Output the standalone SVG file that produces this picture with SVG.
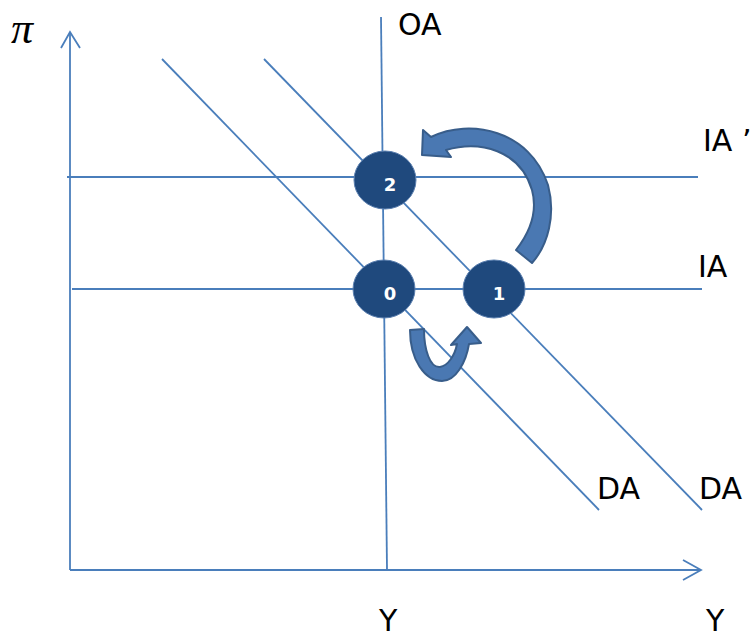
<svg xmlns="http://www.w3.org/2000/svg" width="750" height="631" viewBox="0 0 750 631">
<defs>
<style>
.ln{stroke:#4A7EBB;stroke-width:1.8;fill:none}
.lbl{font-family:"DejaVu Sans","Verdana",sans-serif;font-size:30px;fill:#000}
.node{fill:#1F497D;stroke:#5B7FAF;stroke-width:1}
.nt{font-family:"DejaVu Sans","Verdana",sans-serif;font-size:18px;font-weight:bold;fill:#fff;text-anchor:middle}
.arr{fill:#4A78B2;stroke:#385D8A;stroke-width:2;stroke-linejoin:round}
</style>
</defs>
<rect width="750" height="631" fill="#fff"/>
<g id="axes">
<line class="ln" x1="70" y1="570" x2="70" y2="32"/>
<polyline class="ln" points="61,48 70,32 80,48"/>
<line class="ln" x1="70" y1="570" x2="701" y2="570"/>
<polyline class="ln" points="683,560 701,570 683,580"/>
</g>
<g id="connectors">
<line class="ln" x1="381" y1="17" x2="387" y2="570"/>
<line class="ln" x1="162" y1="59" x2="599" y2="510"/>
<line class="ln" x1="264" y1="59" x2="702" y2="510"/>
<line class="ln" x1="67" y1="177" x2="698" y2="177"/>
<line class="ln" x1="72" y1="289" x2="702" y2="289"/>
<path class="arr" d="M422,155 L423,130 L431,137 C470,118 530,130 548,185 C556,215 548,245 532,263 L516,250 C530,232 538,212 532,190 C520,150 480,140 446,150 L451,157 Z"/>
<path class="arr" d="M410,330 L424,329 C424,350 430,368 440,367 C448,366 455,355 457,344 L451,345 L467,327 L481,343 L469,344 C466,362 456,381 442,381 C425,381 410,360 410,330 Z"/>
</g>
<g id="labels">
<text x="11" y="43" style="font-family:'Liberation Serif',serif;font-style:italic;font-size:44px">π</text>
<text class="lbl" x="398" y="35">OA</text>
<text class="lbl" x="703" y="151">IA ’</text>
<text class="lbl" x="698" y="277">IA</text>
<text class="lbl" x="597" y="499">DA</text>
<text class="lbl" x="699" y="499">DA</text>
<text class="lbl" x="379" y="631">Y</text>
<text class="lbl" x="706" y="631">Y</text>
</g>
<g id="node-2">
<ellipse class="node" cx="385" cy="180" rx="31" ry="29"/>
<text class="nt" x="390" y="191">2</text>
</g>
<g id="node-0">
<ellipse class="node" cx="384" cy="289" rx="31" ry="29"/>
<text class="nt" x="390" y="300">0</text>
</g>
<g id="node-1">
<ellipse class="node" cx="494" cy="289" rx="31" ry="29"/>
<text class="nt" x="499" y="300">1</text>
</g>
</svg>
